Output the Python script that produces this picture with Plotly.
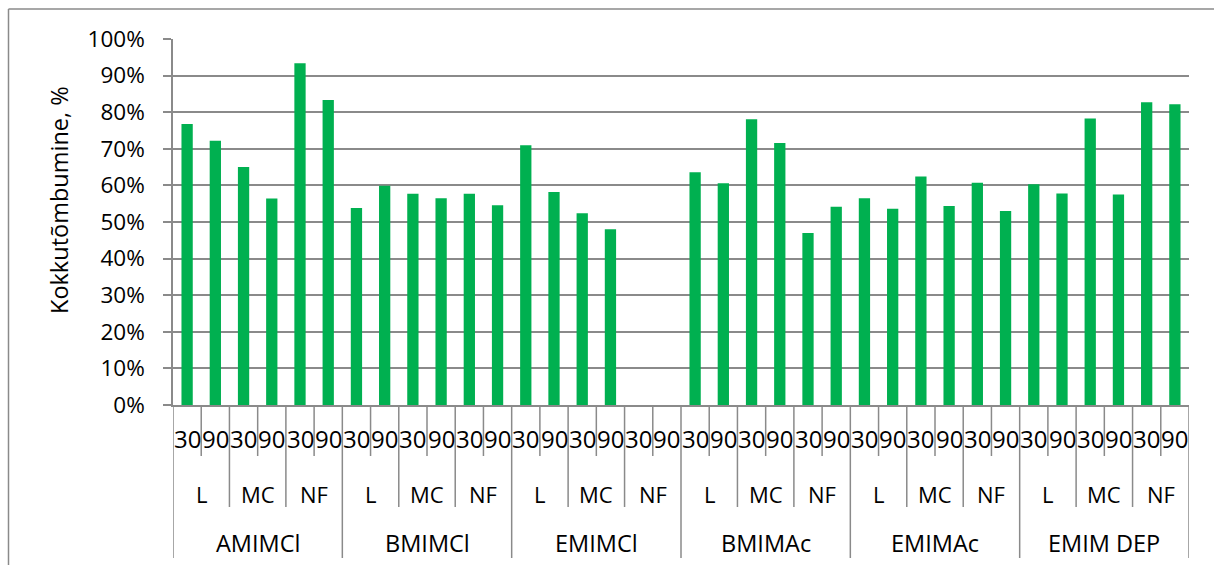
import plotly.graph_objects as go

# Ionic liquid, fibre type and treatment time (min) for each bar
groups = ["AMIMCl", "BMIMCl", "EMIMCl", "BMIMAc", "EMIMAc", "EMIM DEP"]
subgroups = ["L", "MC", "NF"]
times = ["30", "90"]

# Shrinkage, % (EMIMCl / NF has no measurement)
shrinkage = [
    76.8, 72.2, 65.0, 56.4, 93.4, 83.3,
    53.8, 59.9, 57.7, 56.5, 57.7, 54.6,
    71.0, 58.2, 52.4, 48.0, None, None,
    63.6, 60.6, 78.1, 71.6, 47.0, 54.2,
    56.5, 53.6, 62.4, 54.4, 60.7, 53.0,
    60.3, 57.8, 78.3, 57.5, 82.7, 82.2,
]

y_ticks = [0, 10, 20, 30, 40, 50, 60, 70, 80, 90, 100]
y_tick_text = [f"{v}%" for v in y_ticks]
y_title = "Kokkutõmbumine, %"

W, H = 1214, 565
L, R, T, B = 173, 25, 39, 160
PW, PH = W - L - R, H - T - B

FONT = "Open Sans"
GRID = "#8a8a8a"
BAR = "#00b050"


def px_x(p):
    return (p - L) / PW


def px_y(p):
    return (H - B - p) / PH


cats = [f"{g}|{s}|{t}" for g in groups for s in subgroups for t in times]
n = len(cats)
per_group = len(subgroups) * len(times)

fig = go.Figure(
    go.Bar(x=cats, y=shrinkage, marker=dict(color=BAR, line=dict(width=0)),
           hoverinfo="x+y")
)

shapes = []
annotations = []


def label(x, y, text, size, xref="x", angle=0):
    annotations.append(dict(x=x, y=y, xref=xref, yref="paper", text=text,
                            showarrow=False, xanchor="center",
                            yanchor="middle", textangle=angle,
                            font=dict(family=FONT, size=size, color="#000")))


# category dividers below the axis: short between times, longer between
# fibre types, full height between ionic liquids and at both ends
y_axis0 = px_y(405)
for k in range(n + 1):
    if k % per_group == 0:
        bottom = 558
    elif k % len(times) == 0:
        bottom = 507
    else:
        bottom = 456
    shapes.append(dict(type="line", xref="x", yref="paper",
                       x0=k - 0.5, x1=k - 0.5, y0=y_axis0, y1=px_y(bottom),
                       line=dict(color=GRID, width=1.5)))

# level labels
for i, c in enumerate(cats):
    label(i, px_y(438), c.split("|")[2], 24)
for gi, g in enumerate(groups):
    for si, s in enumerate(subgroups):
        xc = gi * per_group + si * len(times) + (len(times) - 1) / 2
        label(xc, px_y(494), s, 22)
    xc = gi * per_group + (per_group - 1) / 2
    label(xc, px_y(543), g, 23.5)

# y-axis title
label(px_x(59), px_y(200), y_title, 23.5, xref="paper", angle=-90)

# chart frame (top and left edges)
shapes.append(dict(type="line", xref="paper", yref="paper",
                   x0=px_x(8.5), x1=px_x(W), y0=px_y(9), y1=px_y(9),
                   line=dict(color=GRID, width=1.5)))
shapes.append(dict(type="line", xref="paper", yref="paper",
                   x0=px_x(8.5), x1=px_x(8.5), y0=px_y(9), y1=px_y(H),
                   line=dict(color=GRID, width=1.5)))

fig.update_layout(
    width=W, height=H,
    margin=dict(l=L, r=R, t=T, b=B, autoexpand=False),
    paper_bgcolor="white", plot_bgcolor="white",
    bargap=0.6,
    showlegend=False,
    shapes=shapes,
    annotations=annotations,
    font=dict(family=FONT, color="#000"),
)
fig.update_xaxes(type="category", range=[-0.5, n - 0.5], showticklabels=False,
                 ticks="", showgrid=False, zeroline=False,
                 showline=True, linecolor=GRID, linewidth=1.5)
fig.update_yaxes(range=[0, 100], tickmode="array", tickvals=y_ticks,
                 ticktext=y_tick_text,
                 showgrid=True, gridcolor=GRID, gridwidth=1.5,
                 zeroline=False, showline=True, linecolor=GRID, linewidth=1.5,
                 ticks="outside", ticklen=8, tickcolor=GRID, tickwidth=1.5,
                 ticklabelstandoff=14,
                 tickfont=dict(family=FONT, size=22.5, color="#000"))

fig.write_html("out.html")
